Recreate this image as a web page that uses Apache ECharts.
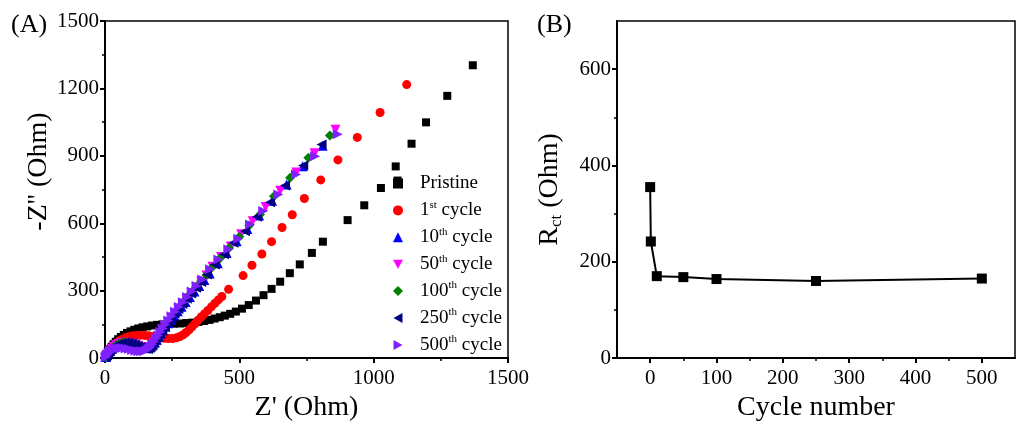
<!DOCTYPE html>
<html>
<head>
<meta charset="utf-8">
<script src="https://cdn.jsdelivr.net/npm/echarts@6/dist/echarts.min.js"></script>
<style>
html,body{margin:0;padding:0;background:#fff;}
#chart{width:1017px;height:427px;}
</style>
</head>
<body>
<div id="chart"></div>
<script>
// ---- Panel A: Nyquist data [Z', -Z''] ----
const pristine = [[3,6],[7,16],[12,27],[18,39],[25,51],[32,62],[40,73],[49,84],[59,94],[70,103],[82,112],[95,119],[109,126],[124,132],[140,137],[157,141],[175,145],[194,148],[214,150],[235,152],[257,153],[280,154],[303,156],[326,158],[348,161],[369,165],[389,170],[408,176],[427,182],[446,189],[466,197],[487,207],[510,220],[535,236],[562,256],[590,280],[620,308],[652,340],[688,378],[725,417],[770,468],[811,518],[903,614],[965,680],[1027,757],[1089,790],[1082,853],[1141,954],[1195,1049],[1274,1167],[1369,1303]];
const cycle1 = [[3,5],[7,13],[12,23],[18,34],[25,45],[33,56],[42,66],[52,75],[63,83],[75,90],[88,95],[102,99],[117,101],[132,102],[147,101],[162,99],[177,96],[192,93],[207,90],[222,88],[237,87],[252,87],[266,90],[279,96],[291,104],[302,114],[313,126],[324,139],[335,153],[346,168],[358,183],[370,197],[383,212],[396,228],[409,244],[422,259],[435,274],[460,306],[514,367],[547,413],[584,463],[620,518],[659,581],[697,638],[742,710],[803,793],[867,882],[939,982],[1024,1093],[1123,1217]];
const cycle10 = [[3,5],[7,13],[12,22],[18,32],[25,42],[33,51],[42,59],[52,65],[63,69],[75,71],[87,71],[99,69],[111,65],[123,60],[134,54],[145,49],[155,46],[164,47],[172,52],[179,60],[186,70],[193,82],[200,95],[208,109],[216,124],[225,139],[235,155],[246,172],[258,190],[271,209],[285,229],[300,250],[316,272],[333,296],[351,321],[370,348],[390,376],[420,422],[453,468],[490,520],[530,574],[574,634],[622,700],[676,772],[736,854],[810,945]];
const cycle50 = [[3,5],[7,12],[12,21],[18,30],[25,40],[33,49],[42,57],[52,63],[63,66],[75,68],[87,67],[99,64],[111,60],[122,55],[133,49],[143,44],[152,41],[160,42],[167,47],[174,56],[181,67],[188,80],[196,94],[204,109],[213,125],[223,142],[234,160],[246,179],[259,199],[273,220],[288,242],[304,265],[321,289],[339,314],[358,340],[378,367],[400,406],[432,450],[468,497],[507,551],[550,609],[598,672],[652,745],[712,826],[780,912],[858,1016]];
const cycle100 = [[3,5],[7,13],[12,22],[18,31],[25,41],[33,50],[42,58],[52,64],[63,68],[75,70],[87,69],[99,66],[111,62],[122,57],[133,51],[143,46],[152,43],[160,44],[167,49],[174,58],[181,69],[188,82],[196,96],[204,111],[213,127],[223,144],[234,162],[246,181],[259,201],[273,222],[288,244],[304,267],[321,291],[339,316],[358,342],[378,369],[395,400],[428,444],[462,490],[500,540],[537,590],[577,639],[629,720],[689,802],[757,891],[837,990]];
const cycle250 = [[3,5],[7,13],[12,22],[18,31],[25,41],[33,50],[42,58],[52,64],[63,67],[75,69],[87,68],[99,65],[111,60],[122,54],[133,48],[143,43],[152,40],[160,41],[167,46],[174,55],[181,66],[188,79],[196,93],[204,108],[213,124],[223,141],[234,159],[246,178],[259,198],[273,219],[288,241],[304,264],[321,288],[339,313],[358,339],[380,372],[409,417],[443,462],[478,513],[521,565],[565,629],[614,694],[670,768],[738,857],[806,950]];
const cycle500 = [[2,4],[5,10],[9,16],[14,23],[20,29],[27,35],[35,40],[44,43],[54,45],[65,45],[77,43],[89,40],[101,36],[113,33],[124,31],[135,30],[145,31],[154,35],[162,42],[169,51],[176,62],[183,74],[190,87],[198,101],[206,116],[215,132],[225,149],[236,167],[248,186],[261,206],[275,227],[290,249],[306,272],[323,296],[341,321],[362,350],[391,395],[422,439],[459,484],[496,531],[540,595],[589,654],[645,728],[711,817],[782,898],[866,996]];
const seriesNames = ['Pristine','1st cycle','10th cycle','50th cycle','100th cycle','250th cycle','500th cycle'];

// ---- Panel B: Rct vs cycle number ----
const cycleNumber = [0,1,10,50,100,250,500];
const rct = [355,242,170,168,164,160,165];
const bXLabels = [0,100,200,300,400,500];
const bXMinor = [50,150,250,350,450];
const bYLabels = [0,200,400,600];
const bYMinor = [100,300,500];

const FONT = 'Liberation Serif';
const SYM_DOWN = 'path://M0,0 L10,0 L5,9 Z';
const SYM_LEFT = 'path://M9,0 L9,10 L0,5 Z';
const SYM_RIGHT = 'path://M0,0 L0,10 L9,5 Z';
const axisLineStyle = {show:true, onZero:false, lineStyle:{color:'#000', width:2}};
const tickStyle = {show:true, inside:false, length:5, lineStyle:{color:'#000', width:2}};
const lblStyle = {color:'#000', fontFamily:FONT, fontSize:21, formatter:function(v){return String(v);}};
const nameStyle = {color:'#000', fontFamily:FONT, fontSize:28};

function mk(name, data, symbol, size, color){
  return {name, type:'scatter', xAxisIndex:0, yAxisIndex:0, data, symbol, symbolSize:size,
    itemStyle:{color, opacity:1}, emphasis:{disabled:true}, z:3};
}

const chart = echarts.init(document.getElementById('chart'), null, {renderer:'canvas'});
const option = {
  animation:false,
  backgroundColor:'#fff',
  grid:[
    {left:105, top:21, width:403, height:338, show:true, borderColor:'#000', borderWidth:1.5, backgroundColor:'transparent'},
    {left:617, top:21, width:398, height:337, show:true, borderColor:'#000', borderWidth:1.5, backgroundColor:'transparent'}
  ],
  graphic:[
    {type:'text', left:11, top:12, style:{text:'(A)', font:'26px "Liberation Serif"', fill:'#000'}},
    {type:'text', left:537, top:12, style:{text:'(B)', font:'26px "Liberation Serif"', fill:'#000'}}
  ],
  legend:{
    left:388, top:169, orient:'vertical', itemGap:6.4, itemWidth:10, itemHeight:10,
    data:seriesNames,
    formatter:function(n){
      const m = n.match(/^(\d+)(st|th) cycle$/);
      if(!m) return '{n|'+n+'}';
      return '{n|'+m[1]+'}{s|'+m[2]+'}{n| cycle}';
    },
    textStyle:{color:'#000', fontFamily:FONT, fontSize:19, padding:[0,0,0,12],
      rich:{n:{fontFamily:FONT, fontSize:19, lineHeight:22, color:'#000'},
            s:{fontFamily:FONT, fontSize:11, lineHeight:12, verticalAlign:'top', color:'#000'}}}
  },
  xAxis:[
    {gridIndex:0, type:'value', position:'bottom', min:0, max:1500, interval:500,
     axisLine:axisLineStyle, axisTick:tickStyle,
     minorTick:{show:true, splitNumber:2, length:3, lineStyle:{color:'#000', width:1.5}},
     axisLabel:Object.assign({margin:10}, lblStyle), splitLine:{show:false},
     name:"Z' (Ohm)", nameLocation:'middle', nameGap:35, nameTextStyle:nameStyle},
    {gridIndex:1, type:'value', position:'bottom', min:-50, max:550,
     axisLine:axisLineStyle, axisTick:Object.assign({customValues:bXLabels}, tickStyle),
     axisLabel:Object.assign({margin:10, customValues:bXLabels}, lblStyle), splitLine:{show:false},
     name:'Cycle number', nameLocation:'middle', nameGap:33, nameTextStyle:nameStyle},
    {gridIndex:1, type:'value', position:'bottom', min:-50, max:550,
     axisLine:{show:false, onZero:false}, axisTick:{show:true, customValues:bXMinor, length:3, lineStyle:{color:'#000', width:1.5}},
     axisLabel:{show:false}, splitLine:{show:false}}
  ],
  yAxis:[
    {gridIndex:0, type:'value', position:'left', min:0, max:1500, interval:300,
     axisLine:axisLineStyle, axisTick:tickStyle,
     minorTick:{show:true, splitNumber:2, length:3, lineStyle:{color:'#000', width:1.5}},
     axisLabel:Object.assign({margin:6}, lblStyle), splitLine:{show:false},
     name:"-Z'' (Ohm)", nameLocation:'middle', nameGap:39,
     nameTextStyle:Object.assign({padding:[0,0,0,36]}, nameStyle)},
    {gridIndex:1, type:'value', position:'left', min:0, max:700,
     axisLine:axisLineStyle, axisTick:Object.assign({customValues:bYLabels}, tickStyle),
     axisLabel:Object.assign({margin:6, customValues:bYLabels}, lblStyle), splitLine:{show:false},
     name:'{r|R}{s|ct}{r| (Ohm)}', nameLocation:'middle', nameGap:52,
     nameTextStyle:{color:'#000', fontFamily:FONT, fontSize:28,
       rich:{r:{fontFamily:FONT, fontSize:28, lineHeight:30, color:'#000'},
             s:{fontFamily:FONT, fontSize:17, lineHeight:17, verticalAlign:'bottom', color:'#000'}}}},
    {gridIndex:1, type:'value', position:'left', min:0, max:700,
     axisLine:{show:false, onZero:false}, axisTick:{show:true, customValues:bYMinor, length:3, lineStyle:{color:'#000', width:1.5}},
     axisLabel:{show:false}, splitLine:{show:false}}
  ],
  series:[
    mk(seriesNames[0], pristine, 'rect', 8, '#000000'),
    mk(seriesNames[1], cycle1, 'circle', 9, '#ff0000'),
    mk(seriesNames[2], cycle10, 'triangle', 10, '#0000ff'),
    mk(seriesNames[3], cycle50, SYM_DOWN, 10, '#ff00ff'),
    mk(seriesNames[4], cycle100, 'diamond', 10, '#008000'),
    mk(seriesNames[5], cycle250, SYM_LEFT, 10, '#000080'),
    mk(seriesNames[6], cycle500, SYM_RIGHT, 10, '#8020ff'),
    {type:'line', xAxisIndex:1, yAxisIndex:1, data:cycleNumber.map((c,i)=>[c,rct[i]]),
     symbol:'rect', symbolSize:10, lineStyle:{color:'#000', width:2}, itemStyle:{color:'#000'},
     emphasis:{disabled:true}, z:3}
  ]
};
chart.setOption(option);
</script>
</body>
</html>
